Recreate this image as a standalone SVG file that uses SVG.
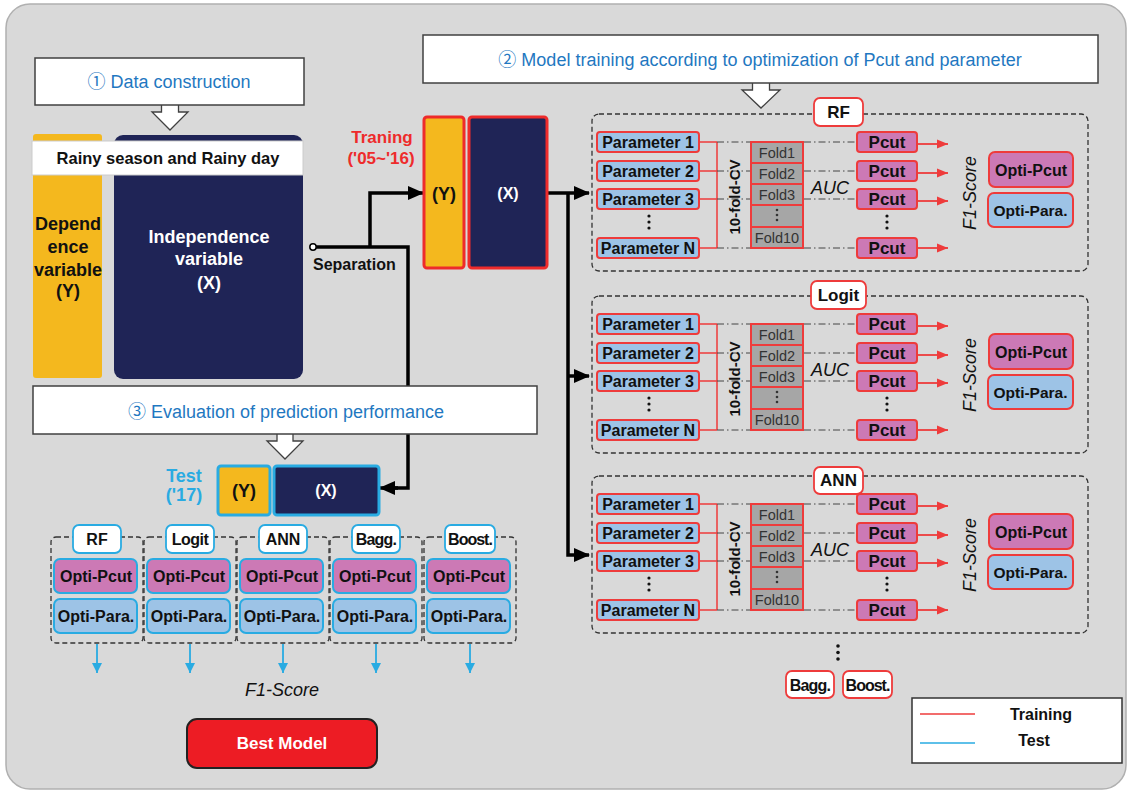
<svg xmlns="http://www.w3.org/2000/svg" width="1128" height="793" viewBox="0 0 1128 793">
<defs>
<style>
text{font-family:"Liberation Sans","Noto Sans CJK KR",sans-serif;fill:#111}
.b{font-weight:bold}
.c{text-anchor:middle}
.it{font-style:italic}
.hdr{fill:#fff;stroke:#404040;stroke-width:1.5}
.hdrt{fill:#1f78c1;font-size:18px;text-anchor:middle}
.harrow{fill:#fff;stroke:#404040;stroke-width:1.3}
.param{fill:#9dc3e6;stroke:#ee3b3b;stroke-width:2}
.pcut{fill:#cc79b5;stroke:#ee3b3b;stroke-width:2}
.fold{fill:#a6a6a6;stroke:#ee3b3b;stroke-width:2}
.lbl{fill:#fff;stroke:#ee3b3b;stroke-width:1.8}
.lblb{fill:#fff;stroke:#29abe2;stroke-width:1.8}
.pcutb{fill:#cc79b5;stroke:#29abe2;stroke-width:2}
.parab{fill:#9dc3e6;stroke:#29abe2;stroke-width:2}
.panel{fill:none;stroke:#333;stroke-width:1.3;stroke-dasharray:5 3}
.dd{fill:none;stroke:#444;stroke-width:1;stroke-dasharray:7 3 1.5 3}
.br{fill:none;stroke:#ee3b3b;stroke-width:1.5}
.ra{fill:none;stroke:#ee3b3b;stroke-width:1.8;marker-end:url(#ar)}
.ba{fill:none;stroke:#29abe2;stroke-width:1.8;marker-end:url(#ab)}
.k{fill:none;stroke:#000;stroke-width:3.5}
.ka{fill:none;stroke:#000;stroke-width:3.5;marker-end:url(#ak)}
.t16{font-size:16px}
.fd{font-size:14.5px;fill:#333}
.dot{fill:#111}
</style>
<marker id="ar" markerWidth="11" markerHeight="10" refX="11" refY="5" orient="auto" markerUnits="userSpaceOnUse"><path d="M0,0.5 L11,5 L0,9.5 z" fill="#ee3b3b"/></marker>
<marker id="ab" markerWidth="11" markerHeight="10" refX="10" refY="5" orient="auto" markerUnits="userSpaceOnUse"><path d="M0,0 L10,5 L0,10 z" fill="#29abe2"/></marker>
<marker id="ak" markerWidth="16" markerHeight="14" refX="15" refY="7" orient="auto" markerUnits="userSpaceOnUse"><path d="M0,0 L16,7 L0,14 z" fill="#000"/></marker>
</defs>

<rect x="0" y="0" width="1128" height="793" fill="#fff"/>
<rect x="6" y="4" width="1120" height="785" rx="24" fill="#d9d9d9" stroke="#b0b0b0" stroke-width="1.5"/>

<!-- connectors -->
<g id="connectors">
  <path class="k" d="M316,247 H408 V488 H384"/>
  <path class="ka" d="M398,488 H380"/>
  <path class="ka" d="M370,247 V193 H423"/>
  <path class="ka" d="M547,193 H589"/>
  <path class="ka" d="M568,193 V555 H589"/>
  <path class="ka" d="M568,376 H589"/>
  <circle cx="313" cy="247" r="3.2" fill="#fff" stroke="#000" stroke-width="1.5"/>
  <g id="rf-links">
    <path class="br" d="M699,142 H717 M699,171 H717 M699,199 H717 M699,248 H717 M717,142 V248"/>
    <path class="dd" d="M717,142 H857 M717,171 H857 M717,199 H857 M717,248 H857"/>
    <path class="ra" d="M918,144 H948"/>
    <path class="ra" d="M918,173 H948"/>
    <path class="ra" d="M918,201 H948"/>
    <path class="ra" d="M918,248 H948"/>
  </g>
  <g id="logit-links" transform="translate(0,182)">
    <path class="br" d="M699,142 H717 M699,171 H717 M699,199 H717 M699,248 H717 M717,142 V248"/>
    <path class="dd" d="M717,142 H857 M717,171 H857 M717,199 H857 M717,248 H857"/>
    <path class="ra" d="M918,144 H948"/>
    <path class="ra" d="M918,173 H948"/>
    <path class="ra" d="M918,201 H948"/>
    <path class="ra" d="M918,248 H948"/>
  </g>
  <g id="ann-links" transform="translate(0,362)">
    <path class="br" d="M699,142 H717 M699,171 H717 M699,199 H717 M699,248 H717 M717,142 V248"/>
    <path class="dd" d="M717,142 H857 M717,171 H857 M717,199 H857 M717,248 H857"/>
    <path class="ra" d="M918,144 H948"/>
    <path class="ra" d="M918,173 H948"/>
    <path class="ra" d="M918,201 H948"/>
    <path class="ra" d="M918,248 H948"/>
  </g>
  <path class="ba" d="M97,644 V673"/>
  <path class="ba" d="M190,644 V673"/>
  <path class="ba" d="M283,644 V673"/>
  <path class="ba" d="M376,644 V673"/>
  <path class="ba" d="M470,644 V673"/>
</g>

<!-- header 1 -->
<g id="step1">
  <path class="harrow" d="M161.5,104 V112 H152 L170,130 L188,112 H178.5 V104"/>
  <rect class="hdr" x="35" y="58" width="269" height="47"/>
  <text class="hdrt" x="169" y="88" font-size="17">① Data construction</text>
</g>

<!-- data -->
<g id="dep-var">
  <rect x="33" y="134" width="69" height="244" rx="3" fill="#f4b81e"/>
  <text class="b c" x="68" y="229.5" font-size="18">Depend</text>
  <text class="b c" x="68" y="252.5" font-size="18">ence</text>
  <text class="b c" x="68" y="275.5" font-size="18">variable</text>
  <text class="b c" x="68" y="296.5" font-size="18">(Y)</text>
</g>
<g id="indep-var">
  <rect x="114" y="135" width="189" height="244" rx="9" fill="#1f2456"/>
  <text class="b c" x="209" y="242.5" font-size="18" style="fill:#fff">Independence</text>
  <text class="b c" x="209" y="264.5" font-size="18" style="fill:#fff">variable</text>
  <text class="b c" x="209" y="288.5" font-size="18" style="fill:#fff">(X)</text>
</g>
<g id="rainy">
  <rect x="32" y="141" width="271" height="34" fill="#fff" stroke="#ccc" stroke-width="1"/>
  <text class="b c" x="168" y="163.5" font-size="16.5">Rainy season and Rainy day</text>
</g>
<g id="separation">
  <text class="b" x="313" y="270" font-size="16">Separation</text>
</g>

<!-- training -->
<g id="training">
  <text class="b c" x="382" y="143" font-size="17" style="fill:#ee2b2b">Traning</text>
  <text class="b c" x="381" y="164" font-size="17" style="fill:#ee2b2b">('05~'16)</text>
  <rect x="424" y="117" width="40" height="151" rx="3" fill="#f4b81e" stroke="#ee2b2b" stroke-width="3"/>
  <text class="b c" x="444" y="199.5" font-size="18">(Y)</text>
  <rect x="469" y="117" width="78" height="151" rx="3" fill="#1f2456" stroke="#ee2b2b" stroke-width="3"/>
  <text class="b c" x="508" y="199" font-size="16" style="fill:#fff">(X)</text>
</g>

<!-- header 2 -->
<g id="step2">
  <path class="harrow" d="M752.5,82 V90 H742 L761,108 L780,90 H769.5 V82"/>
  <rect class="hdr" x="423" y="35" width="675" height="48"/>
  <text class="hdrt" x="760" y="66">② Model training according to optimization of Pcut and parameter</text>
</g>

<!-- RF panel -->
<g id="panel-rf">
  <rect class="panel" x="592" y="114" width="496" height="157" rx="7"/>
  <rect class="lbl" x="814" y="98" width="49" height="28" rx="6"/>
  <text class="b c" x="838.5" y="118" font-size="17">RF</text>
  <rect class="param" x="597" y="132" width="102" height="20" rx="3"/><text class="b c t16" x="648" y="147.5">Parameter 1</text>
  <rect class="param" x="597" y="161" width="102" height="20" rx="3"/><text class="b c t16" x="648" y="176.5">Parameter 2</text>
  <rect class="param" x="597" y="189" width="102" height="20" rx="3"/><text class="b c t16" x="648" y="204.5">Parameter 3</text>
  <rect class="param" x="597" y="238" width="102" height="20" rx="3"/><text class="b c t16" x="648" y="253.5">Parameter N</text>
  <circle class="dot" cx="649" cy="216" r="1.6"/><circle class="dot" cx="649" cy="222" r="1.6"/><circle class="dot" cx="649" cy="228" r="1.6"/>
  <text class="b c" font-size="15" transform="translate(735,197) rotate(-90)" y="5">10-fold-CV</text>
  <rect class="fold" x="751" y="142" width="52" height="21"/><text class="c fd" x="777" y="157.5">Fold1</text>
  <rect class="fold" x="751" y="163" width="52" height="21"/><text class="c fd" x="777" y="178.5">Fold2</text>
  <rect class="fold" x="751" y="184" width="52" height="21"/><text class="c fd" x="777" y="199.5">Fold3</text>
  <rect class="fold" x="751" y="205" width="52" height="22"/>
  <circle cx="777" cy="210" r="1.3" fill="#333"/><circle cx="777" cy="215" r="1.3" fill="#333"/><circle cx="777" cy="220" r="1.3" fill="#333"/>
  <rect class="fold" x="751" y="227" width="52" height="21"/><text class="c fd" x="777" y="242.5">Fold10</text>
  <text class="it c" x="830" y="194" font-size="18">AUC</text>
  <rect class="pcut" x="857" y="132" width="60" height="20" rx="3"/><text class="b c" x="887" y="148" font-size="17">Pcut</text>
  <rect class="pcut" x="857" y="161" width="60" height="20" rx="3"/><text class="b c" x="887" y="177" font-size="17">Pcut</text>
  <rect class="pcut" x="857" y="189" width="60" height="20" rx="3"/><text class="b c" x="887" y="205" font-size="17">Pcut</text>
  <rect class="pcut" x="857" y="238" width="60" height="20" rx="3"/><text class="b c" x="887" y="254" font-size="17">Pcut</text>
  <circle class="dot" cx="887" cy="216" r="1.6"/><circle class="dot" cx="887" cy="222" r="1.6"/><circle class="dot" cx="887" cy="228" r="1.6"/>
  <text class="it c" font-size="18" transform="translate(970,193) rotate(-90)" y="6">F1-Score</text>
  <rect class="pcut" x="989" y="152" width="84" height="35" rx="6"/><text class="b c t16" x="1031" y="175.5">Opti-Pcut</text>
  <rect class="param" x="988" y="193" width="85" height="34" rx="6"/><text class="b c" x="1030.5" y="215.5" font-size="15.5">Opti-Para.</text>
</g>

<!-- Logit panel -->
<g id="panel-logit" transform="translate(0,182)">
  <rect class="panel" x="592" y="114" width="496" height="157" rx="7"/>
  <rect class="lbl" x="811" y="99" width="55" height="28" rx="6"/>
  <text class="b c" x="838.5" y="119" font-size="17">Logit</text>
  <rect class="param" x="597" y="132" width="102" height="20" rx="3"/><text class="b c t16" x="648" y="147.5">Parameter 1</text>
  <rect class="param" x="597" y="161" width="102" height="20" rx="3"/><text class="b c t16" x="648" y="176.5">Parameter 2</text>
  <rect class="param" x="597" y="189" width="102" height="20" rx="3"/><text class="b c t16" x="648" y="204.5">Parameter 3</text>
  <rect class="param" x="597" y="238" width="102" height="20" rx="3"/><text class="b c t16" x="648" y="253.5">Parameter N</text>
  <circle class="dot" cx="649" cy="216" r="1.6"/><circle class="dot" cx="649" cy="222" r="1.6"/><circle class="dot" cx="649" cy="228" r="1.6"/>
  <text class="b c" font-size="15" transform="translate(735,197) rotate(-90)" y="5">10-fold-CV</text>
  <rect class="fold" x="751" y="142" width="52" height="21"/><text class="c fd" x="777" y="157.5">Fold1</text>
  <rect class="fold" x="751" y="163" width="52" height="21"/><text class="c fd" x="777" y="178.5">Fold2</text>
  <rect class="fold" x="751" y="184" width="52" height="21"/><text class="c fd" x="777" y="199.5">Fold3</text>
  <rect class="fold" x="751" y="205" width="52" height="22"/>
  <circle cx="777" cy="210" r="1.3" fill="#333"/><circle cx="777" cy="215" r="1.3" fill="#333"/><circle cx="777" cy="220" r="1.3" fill="#333"/>
  <rect class="fold" x="751" y="227" width="52" height="21"/><text class="c fd" x="777" y="242.5">Fold10</text>
  <text class="it c" x="830" y="194" font-size="18">AUC</text>
  <rect class="pcut" x="857" y="132" width="60" height="20" rx="3"/><text class="b c" x="887" y="148" font-size="17">Pcut</text>
  <rect class="pcut" x="857" y="161" width="60" height="20" rx="3"/><text class="b c" x="887" y="177" font-size="17">Pcut</text>
  <rect class="pcut" x="857" y="189" width="60" height="20" rx="3"/><text class="b c" x="887" y="205" font-size="17">Pcut</text>
  <rect class="pcut" x="857" y="238" width="60" height="20" rx="3"/><text class="b c" x="887" y="254" font-size="17">Pcut</text>
  <circle class="dot" cx="887" cy="216" r="1.6"/><circle class="dot" cx="887" cy="222" r="1.6"/><circle class="dot" cx="887" cy="228" r="1.6"/>
  <text class="it c" font-size="18" transform="translate(970,193) rotate(-90)" y="6">F1-Score</text>
  <rect class="pcut" x="989" y="152" width="84" height="35" rx="6"/><text class="b c t16" x="1031" y="175.5">Opti-Pcut</text>
  <rect class="param" x="988" y="193" width="85" height="34" rx="6"/><text class="b c" x="1030.5" y="215.5" font-size="15.5">Opti-Para.</text>
</g>

<!-- ANN panel -->
<g id="panel-ann" transform="translate(0,362)">
  <rect class="panel" x="592" y="114" width="496" height="157" rx="7"/>
  <rect class="lbl" x="814" y="105" width="49" height="27" rx="6"/>
  <text class="b c" x="838.5" y="124" font-size="17">ANN</text>
  <rect class="param" x="597" y="132" width="102" height="20" rx="3"/><text class="b c t16" x="648" y="147.5">Parameter 1</text>
  <rect class="param" x="597" y="161" width="102" height="20" rx="3"/><text class="b c t16" x="648" y="176.5">Parameter 2</text>
  <rect class="param" x="597" y="189" width="102" height="20" rx="3"/><text class="b c t16" x="648" y="204.5">Parameter 3</text>
  <rect class="param" x="597" y="238" width="102" height="20" rx="3"/><text class="b c t16" x="648" y="253.5">Parameter N</text>
  <circle class="dot" cx="649" cy="216" r="1.6"/><circle class="dot" cx="649" cy="222" r="1.6"/><circle class="dot" cx="649" cy="228" r="1.6"/>
  <text class="b c" font-size="15" transform="translate(735,197) rotate(-90)" y="5">10-fold-CV</text>
  <rect class="fold" x="751" y="142" width="52" height="21"/><text class="c fd" x="777" y="157.5">Fold1</text>
  <rect class="fold" x="751" y="163" width="52" height="21"/><text class="c fd" x="777" y="178.5">Fold2</text>
  <rect class="fold" x="751" y="184" width="52" height="21"/><text class="c fd" x="777" y="199.5">Fold3</text>
  <rect class="fold" x="751" y="205" width="52" height="22"/>
  <circle cx="777" cy="210" r="1.3" fill="#333"/><circle cx="777" cy="215" r="1.3" fill="#333"/><circle cx="777" cy="220" r="1.3" fill="#333"/>
  <rect class="fold" x="751" y="227" width="52" height="21"/><text class="c fd" x="777" y="242.5">Fold10</text>
  <text class="it c" x="830" y="194" font-size="18">AUC</text>
  <rect class="pcut" x="857" y="132" width="60" height="20" rx="3"/><text class="b c" x="887" y="148" font-size="17">Pcut</text>
  <rect class="pcut" x="857" y="161" width="60" height="20" rx="3"/><text class="b c" x="887" y="177" font-size="17">Pcut</text>
  <rect class="pcut" x="857" y="189" width="60" height="20" rx="3"/><text class="b c" x="887" y="205" font-size="17">Pcut</text>
  <rect class="pcut" x="857" y="238" width="60" height="20" rx="3"/><text class="b c" x="887" y="254" font-size="17">Pcut</text>
  <circle class="dot" cx="887" cy="216" r="1.6"/><circle class="dot" cx="887" cy="222" r="1.6"/><circle class="dot" cx="887" cy="228" r="1.6"/>
  <text class="it c" font-size="18" transform="translate(970,193) rotate(-90)" y="6">F1-Score</text>
  <rect class="pcut" x="989" y="152" width="84" height="35" rx="6"/><text class="b c t16" x="1031" y="175.5">Opti-Pcut</text>
  <rect class="param" x="988" y="193" width="85" height="34" rx="6"/><text class="b c" x="1030.5" y="215.5" font-size="15.5">Opti-Para.</text>
</g>

<g id="more-models">
  <circle class="dot" cx="838" cy="646" r="1.8"/><circle class="dot" cx="838" cy="652.5" r="1.8"/><circle class="dot" cx="838" cy="659" r="1.8"/>
  <rect class="lbl" x="786" y="671" width="48" height="27" rx="6"/>
  <text class="b c" x="810" y="690.5" font-size="16" letter-spacing="-0.8">Bagg.</text>
  <rect class="lbl" x="843" y="671" width="49" height="27" rx="6"/>
  <text class="b c" x="867.5" y="690.5" font-size="16" letter-spacing="-1">Boost.</text>
</g>

<!-- header 3 -->
<g id="step3">
  <path class="harrow" d="M277,433 V441 H267 L285,459 L303,441 H293 V433"/>
  <rect class="hdr" x="33" y="386" width="504" height="48"/>
  <text class="hdrt" x="286" y="418">③  Evaluation of  prediction performance</text>
</g>

<g id="test">
  <text class="b c" x="184" y="482" font-size="18" style="fill:#29abe2">Test</text>
  <text class="b c" x="184" y="501" font-size="18" style="fill:#29abe2">('17)</text>
  <rect x="218" y="466" width="52" height="49" rx="3" fill="#f4b81e" stroke="#29abe2" stroke-width="3"/>
  <text class="b c" x="244" y="496.5" font-size="18">(Y)</text>
  <rect x="274" y="466" width="105" height="49" rx="3" fill="#1f2456" stroke="#29abe2" stroke-width="3"/>
  <text class="b c" x="326" y="496" font-size="16" style="fill:#fff">(X)</text>
</g>

<!-- evaluation panels -->
<g id="eval-rf">
  <rect class="panel" x="51" y="537" width="92" height="106" rx="5"/>
  <rect class="lblb" x="73" y="525" width="48" height="28" rx="6"/><text class="b c t16" x="97" y="545">RF</text>
  <rect class="pcutb" x="54" y="559" width="83" height="34" rx="6"/><text class="b c t16" x="96" y="582">Opti-Pcut</text>
  <rect class="parab" x="54" y="599" width="83" height="34" rx="6"/><text class="b c t16" x="96" y="622">Opti-Para.</text>
</g>
<g id="eval-logit">
  <rect class="panel" x="144" y="537" width="92" height="106" rx="5"/>
  <rect class="lblb" x="166" y="525" width="48" height="28" rx="6"/><text class="b c t16" x="190" y="545" letter-spacing="-0.5">Logit</text>
  <rect class="pcutb" x="147" y="559" width="83" height="34" rx="6"/><text class="b c t16" x="189" y="582">Opti-Pcut</text>
  <rect class="parab" x="147" y="599" width="83" height="34" rx="6"/><text class="b c t16" x="189" y="622">Opti-Para.</text>
</g>
<g id="eval-ann">
  <rect class="panel" x="237" y="537" width="92" height="106" rx="5"/>
  <rect class="lblb" x="259" y="525" width="48" height="28" rx="6"/><text class="b c t16" x="283" y="545">ANN</text>
  <rect class="pcutb" x="240" y="559" width="83" height="34" rx="6"/><text class="b c t16" x="282" y="582">Opti-Pcut</text>
  <rect class="parab" x="240" y="599" width="83" height="34" rx="6"/><text class="b c t16" x="282" y="622">Opti-Para.</text>
</g>
<g id="eval-bagg">
  <rect class="panel" x="330" y="537" width="92" height="106" rx="5"/>
  <rect class="lblb" x="352" y="525" width="48" height="28" rx="6"/><text class="b c" x="376" y="545" font-size="16" letter-spacing="-0.8">Bagg.</text>
  <rect class="pcutb" x="333" y="559" width="83" height="34" rx="6"/><text class="b c t16" x="375" y="582">Opti-Pcut</text>
  <rect class="parab" x="333" y="599" width="83" height="34" rx="6"/><text class="b c t16" x="375" y="622">Opti-Para.</text>
</g>
<g id="eval-boost">
  <rect class="panel" x="424" y="537" width="92" height="106" rx="5"/>
  <rect class="lblb" x="445" y="525" width="50" height="28" rx="6"/><text class="b c" x="470" y="545" font-size="16" letter-spacing="-1">Boost.</text>
  <rect class="pcutb" x="427" y="559" width="83" height="34" rx="6"/><text class="b c t16" x="469" y="582">Opti-Pcut</text>
  <rect class="parab" x="427" y="599" width="83" height="34" rx="6"/><text class="b c t16" x="469" y="622">Opti-Para.</text>
</g>

<g id="f1-score">
  <text class="it c" x="282" y="696" font-size="18">F1-Score</text>
</g>

<g id="best-model">
  <rect x="187" y="719" width="190" height="49" rx="10" fill="#ed1c24" stroke="#222" stroke-width="2"/>
  <text class="b c" x="282" y="749" font-size="17" style="fill:#fff">Best Model</text>
</g>

<g id="legend">
  <rect x="912" y="698" width="210" height="65" fill="#fff" stroke="#333" stroke-width="1.5"/>
  <line x1="920" y1="714" x2="975" y2="714" stroke="#ee3b3b" stroke-width="1.5"/>
  <line x1="920" y1="743" x2="975" y2="743" stroke="#29abe2" stroke-width="1.5"/>
  <text class="b c t16" x="1041" y="720">Training</text>
  <text class="b c t16" x="1034" y="746">Test</text>
</g>
</svg>
